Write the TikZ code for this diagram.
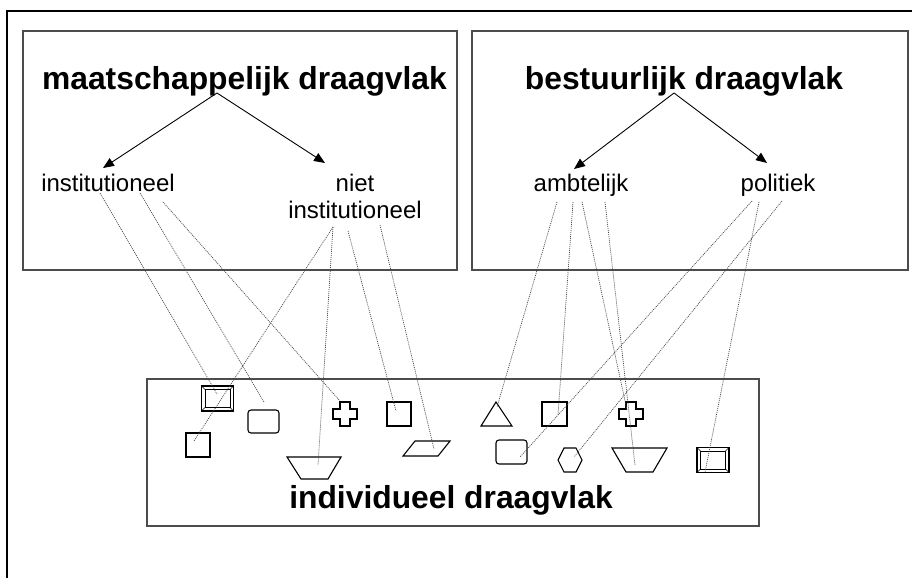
\documentclass[tikz,border=0pt]{standalone}
\usepackage{fontspec}
\setmainfont{Liberation Sans}
\usetikzlibrary{arrows.meta}
\begin{document}
\begin{tikzpicture}[x=1pt,y=-1pt,
  frame/.style={line width=2.5pt, black},
  panel/.style={draw=black!70, line width=1.5pt},
  title/.style={font=\fontsize{31.8}{36}\selectfont\bfseries, anchor=base, inner sep=0pt},
  sub/.style={font=\fontsize{24}{27}\selectfont, anchor=base, inner sep=0pt, align=center},
  arr/.style={-{Triangle[length=11pt,width=9pt]}, line width=0.9pt},
  link/.style={draw=black!72, line width=0.7pt, dash pattern=on 1pt off 1pt},
  shp/.style={draw=black, line width=1.1pt, line join=miter},
  bevelbox/.pic={
    \draw[shp] (-16,-12.5) rectangle (16,12.5);
    \draw[shp, line width=0.8pt] (-12.5,-9) rectangle (12.5,9);
    \draw[shp, line width=0.6pt] (-16,-12.5)--(-12.5,-9) (16,-12.5)--(12.5,-9)
      (-16,12.5)--(-12.5,9) (16,12.5)--(12.5,9);
  },
  plusbox/.pic={
    \draw[shp] (-5,-12) -- (5,-12) -- (5,-5) -- (12,-5) -- (12,5) -- (5,5) -- (5,12)
      -- (-5,12) -- (-5,5) -- (-12,5) -- (-12,-5) -- (-5,-5) -- cycle;
  }]

\useasboundingbox (0,0) rectangle (912,578);
\fill[white] (0,0) rectangle (912,578);

% outer frame (only top and left edges visible)
\draw[frame] (912,11) -- (7,11) -- (7,578);

% panels
\draw[panel] (23,31) rectangle (457,270);
\draw[panel] (472,31) rectangle (908,270);
\draw[panel] (147,379) rectangle (759,526);

% titles
\node[title] (maat) at (244.5,89) {maatschappelijk draagvlak};
\node[title] (best) at (684,89) {bestuurlijk draagvlak};
\node[title] (indi) at (451,508) {individueel draagvlak};

% sub labels
\node[sub] (inst) at (108,191) {institutioneel};
\node[sub] (niet) at (355,218) {niet\\institutioneel};
\node[sub] (ambt) at (581,191) {ambtelijk};
\node[sub] (poli) at (778,191) {politiek};

% arrows
\coordinate (maatS) at (217,93);
\coordinate (bestS) at (674,93);
\coordinate (instN) at (103,168);
\coordinate (nietN) at (325,163);
\coordinate (ambtN) at (574,169);
\coordinate (poliN) at (767,163);
\draw[arr] (maatS) -- (instN);
\draw[arr] (maatS) -- (nietN);
\draw[arr] (bestS) -- (ambtN);
\draw[arr] (bestS) -- (poliN);

% shapes in the lower panel
\pic at (217.5,398.5) {bevelbox};
\draw[shp, rounded corners=3pt] (248,410) rectangle (279,433);
\draw[shp] (186,433) rectangle (210,457);
\pic at (345,414) {plusbox};
\draw[shp] (387,402) rectangle (411,426);
\draw[shp] (287,457) -- (341,457) -- (328,479) -- (301,479) -- cycle;
\draw[shp] (415,441) -- (450,441) -- (438,456) -- (403,456) -- cycle;
\draw[shp] (496,402) -- (512,426) -- (481,426) -- cycle;
\draw[shp] (542,402) rectangle (567,426);
\pic at (631,414) {plusbox};
\draw[shp, rounded corners=3pt] (496,440) rectangle (527,464);
\draw[shp] (558,460) -- (564,448) -- (576,448) -- (582,460) -- (576,472) -- (564,472) -- cycle;
\draw[shp] (612,448) -- (667,448) -- (653,472) -- (626,472) -- cycle;
\pic at (713,460) {bevelbox};

% connector start points
\coordinate (i1) at (100,193);
\coordinate (i2) at (140,193);
\coordinate (i3) at (163,202);
\coordinate (n1) at (333,227);
\coordinate (n2) at (348,231);
\coordinate (n3) at (380,225);
\coordinate (a1) at (557,202);
\coordinate (a2) at (573,202);
\coordinate (a3) at (582,202);
\coordinate (a4) at (605,202);
\coordinate (p1) at (752,201);
\coordinate (p2) at (759,202);
\coordinate (p3) at (782,201);

% connector end points
\coordinate (e1) at (217,394);
\coordinate (e2) at (264,402);
\coordinate (e3) at (340,401);
\coordinate (e4) at (194,441);
\coordinate (e5) at (318,465);
\coordinate (e6) at (396,411);
\coordinate (e7) at (434,449);
\coordinate (e8) at (497,407);
\coordinate (e9) at (558,415);
\coordinate (e10) at (627,410);
\coordinate (e11) at (635,465);
\coordinate (e12) at (520,457);
\coordinate (e13) at (574,457);
\coordinate (e14) at (705,472);

\draw[link] (i1) -- (e1);
\draw[link] (i2) -- (e2);
\draw[link] (i3) -- (e3);
\draw[link] (n1) -- (e4);
\draw[link] (n1) -- (e5);
\draw[link] (n2) -- (e6);
\draw[link] (n3) -- (e7);
\draw[link] (a1) -- (e8);
\draw[link] (a2) -- (e9);
\draw[link] (a3) -- (e10);
\draw[link] (a4) -- (e11);
\draw[link] (p1) -- (e12);
\draw[link] (p3) -- (e13);
\draw[link] (p2) -- (e14);
\end{tikzpicture}
\end{document}
